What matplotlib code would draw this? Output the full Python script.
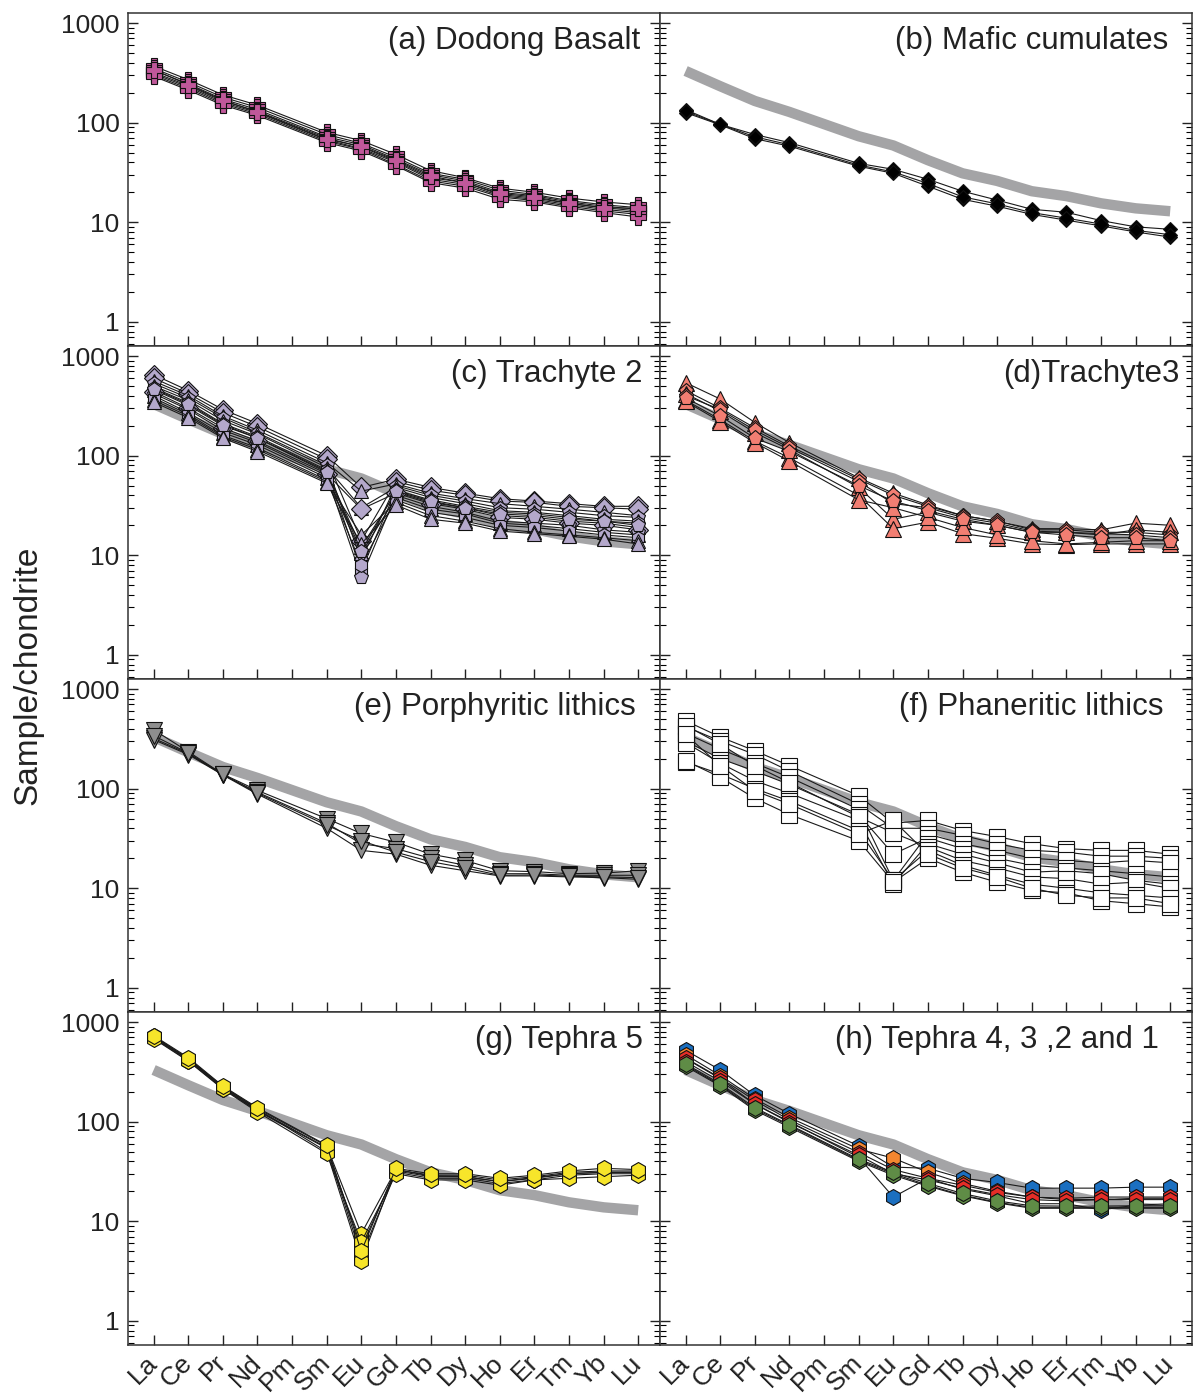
import numpy as np
import matplotlib
matplotlib.use("Agg")
import matplotlib.pyplot as plt
from matplotlib.ticker import LogLocator, FixedLocator, NullFormatter

plt.rcParams['font.family'] = ['Liberation Sans', 'DejaVu Sans']

elements = ['La', 'Ce', 'Pr', 'Nd', 'Pm', 'Sm', 'Eu', 'Gd', 'Tb', 'Dy', 'Ho', 'Er', 'Tm', 'Yb', 'Lu']
# measured REE (no Pm)
ree = ['La', 'Ce', 'Pr', 'Nd', 'Sm', 'Eu', 'Gd', 'Tb', 'Dy', 'Ho', 'Er', 'Tm', 'Yb', 'Lu']

# Dodong basalt average (grey band)
basalt_ref = [330, 232, 165, 128, 73, 59, 42, 31, 26, 20.5, 18.3, 15.5, 13.8, 12.9]

# (a) Dodong Basalt
dodong = [
    [370, 270, 190, 150, 80, 66, 48, 33, 28, 22, 20, 17.5, 16, 15],
    [350, 255, 180, 142, 76, 62, 45, 31, 27, 21, 19, 16.5, 15, 14],
    [335, 245, 172, 135, 72, 60, 43, 30, 26, 20, 18.5, 16, 14.5, 13.5],
    [320, 235, 165, 130, 70, 57, 41, 28, 25, 19, 17.5, 15.5, 14, 13],
    [310, 228, 160, 126, 67, 55, 40, 27, 24, 18.5, 17, 15, 13.5, 12.5],
    [300, 220, 155, 122, 65, 54, 38, 26, 23, 18, 16.5, 14.5, 13, 12],
    [292, 212, 150, 118, 63, 52, 37, 25, 22, 17, 16, 14, 12.5, 11.3],
    [340, 240, 168, 128, 68, 58, 42, 29, 25, 19.5, 18, 15.5, 14, 13.8],
]

# (b) Mafic cumulates
mafic = [
    [135, 96, 76, 63, 39, 34, 27, 20.5, 16.7, 13.5, 12.6, 10.4, 9, 8.5],
    [126, 95, 69, 58, 36.5, 31, 23, 17, 14.5, 12, 10.5, 9.2, 8, 7.1],
    [130, 96, 72, 60, 37.5, 32, 24.5, 18, 15.3, 12.5, 11, 9.6, 8.3, 7.5],
]

# (c) Trachyte 2
trachyte2 = [
    [650, 450, 290, 210, 100, 48, 58, 48, 42, 37, 35, 33, 31, 31],
    [600, 420, 270, 195, 92, 14, 55, 45, 40, 35, 34, 31, 30, 29],
    [560, 400, 250, 180, 85, 44, 52, 42, 37, 33, 31, 29, 27, 25],
    [530, 380, 240, 170, 80, 9, 50, 40, 35, 30, 29, 27, 25, 24],
    [500, 360, 225, 165, 76, 30, 48, 38, 33, 28, 27, 25, 23, 22],
    [480, 340, 210, 155, 72, 7, 45, 36, 31, 27, 26, 24, 22, 21],
    [460, 320, 200, 150, 70, 12, 43, 34, 30, 25, 24, 22, 21, 19],
    [440, 300, 190, 140, 66, 29, 42, 33, 29, 24, 23, 21, 20, 18],
    [420, 290, 180, 135, 63, 6, 40, 31, 27, 22, 21, 20, 18, 17],
    [400, 270, 170, 128, 60, 10.5, 38, 29, 26, 21, 20, 18.5, 17, 16],
    [380, 260, 160, 120, 57, 8, 36, 27, 24, 20, 19, 17.5, 16, 15],
    [360, 250, 155, 115, 55, 16, 34, 25, 22, 18.5, 17, 16, 15, 14],
    [345, 240, 150, 110, 53, 13, 32, 23, 21, 17.5, 16.5, 15.5, 14.5, 13],
    [470, 330, 205, 150, 68, 11, 44, 35, 30, 26, 25, 23, 22, 20],
]
trachyte2_mk = ['D', 'D', '^', 'p', '^', 'h', '^', 'D', 'p', '^', 'h', '^', '^', 'p']

# (d) Trachyte 3
trachyte3 = [
    [540, 370, 215, 135, 60, 42, 32, 25, 22, 18.5, 18.5, 18, 21, 20],
    [450, 300, 190, 125, 58, 40, 31, 25, 22, 18, 18, 17, 17, 16],
    [420, 280, 170, 115, 48, 23, 27, 22, 20, 17, 17, 16, 18, 17],
    [400, 290, 180, 120, 55, 33, 30, 24, 21, 17.5, 17, 16.5, 16, 15],
    [360, 230, 140, 95, 40, 18.5, 21.5, 16.5, 14.8, 13, 12.8, 13, 13, 13],
    [350, 220, 135, 88, 36, 30, 24, 19, 16, 14, 13, 13.5, 14, 14],
    [380, 250, 150, 110, 50, 35, 28, 23, 20, 17, 16, 15, 15, 14],
]
trachyte3_mk = ['^', 'p', '^', 'p', '^', '^', 'p']

# (e) Porphyritic lithics
porphyritic = [
    [390, 235, 140, 96, 50, 35.5, 29, 22, 19, 15, 14.7, 14, 14.2, 15],
    [320, 225, 138, 92, 45, 28, 25, 20, 17, 14, 14, 13.5, 13.5, 13.5],
    [310, 220, 137, 88, 40, 24, 22, 17, 15, 13.3, 13.3, 13, 12.8, 12.3],
    [340, 228, 139, 90, 43, 30, 23, 18.5, 16, 13.5, 13.6, 13.2, 13, 12.8],
]

# (f) Phaneritic lithics
phaneritic = [
    [480, 330, 240, 170, 85, 45, 48, 38, 33, 28, 25, 24, 24, 22],
    [420, 300, 220, 150, 70, 40, 40, 34, 28, 24, 23, 21, 21, 20],
    [360, 250, 180, 130, 62, 12, 35, 28, 24, 20, 19, 18, 19, 18],
    [300, 200, 150, 110, 55, 22, 32, 25, 20, 17, 16, 15, 14, 13],
    [290, 180, 120, 90, 48, 11, 28, 22, 18, 14.5, 15, 14, 12, 11],
    [430, 280, 170, 115, 52, 36, 26, 19, 16, 13, 12.5, 11, 11.5, 10],
    [185, 140, 100, 75, 38, 12, 24, 17, 13.5, 11, 10, 9, 8.5, 8],
    [190, 130, 80, 55, 30, 11.5, 20, 14.5, 11.5, 9.5, 9, 7.5, 7, 6.5],
    [350, 170, 95, 70, 35, 48, 22, 16, 13, 10, 8.5, 8, 8, 7],
]

# (g) Tephra 5
tephra5 = [
    [720, 430, 225, 135, 57, 7.5, 33, 29, 29, 26, 28, 31, 32, 32],
    [700, 420, 218, 130, 55, 5.5, 32, 28, 28, 25, 27, 30, 31, 31],
    [690, 410, 215, 128, 54, 4.5, 31, 27, 27, 24, 26, 29, 30, 30],
    [710, 425, 222, 133, 50, 4.0, 33, 28.5, 28, 25, 27.5, 30, 31, 31],
    [680, 405, 212, 125, 48, 6.2, 30, 26, 26, 23, 26, 27, 28, 29],
    [730, 440, 228, 138, 58, 5.0, 34, 30, 30, 27, 29, 32, 34, 33],
]

# (h) Tephra 4, 3, 2 and 1
tephra_h = [
    [520, 330, 183, 120, 57, 35, 34, 27, 24.5, 21.5, 21.5, 21.5, 22, 22],
    [430, 270, 150, 100, 44, 17.5, 27, 21, 18, 15, 15, 13, 14.5, 15],
    [470, 290, 170, 110, 53, 43, 31, 24, 20, 17.5, 16.5, 16.5, 17, 17],
    [435, 275, 163, 104, 49, 33, 27, 23, 19.5, 17.5, 17, 17.5, 17.5, 17.5],
    [400, 255, 150, 98, 46, 30, 26, 21.5, 18.5, 16.5, 16, 16.5, 16.5, 16.5],
    [370, 233, 134, 91, 41, 30, 23, 18.3, 15.5, 13.8, 13.8, 13.8, 13.8, 13.8],
    [360, 228, 130, 88, 40, 29, 22.5, 18, 15.3, 13.5, 13.5, 13.5, 13.5, 13.5],
    [380, 240, 138, 93, 42, 31, 24, 19, 16, 14.3, 14.2, 14.2, 14.3, 14.3],
]
tephra_h_col = ['#1b6fc0', '#1b6fc0', '#f3862f', '#e52d27', '#e52d27', '#5f8c46', '#5f8c46', '#5f8c46']

titles = ['(a) Dodong Basalt', '(b) Mafic cumulates', '(c) Trachyte 2', '(d)Trachyte3',
          '(e) Porphyritic lithics', '(f) Phaneritic lithics', '(g) Tephra 5', '(h) Tephra 4, 3 ,2 and 1']
title_x = [0.962, 0.955, 0.968, 0.977, 0.955, 0.947, 0.968, 0.937]

xpos = [elements.index(e) for e in ree]

fig = plt.figure(figsize=(11.93, 13.95), dpi=100)
W, H = 1193.0, 1395.0
axes = []
for r in range(4):
    for c in range(2):
        x0 = (128 if c == 0 else 660) / W
        y0 = 1 - (13 + 333 * (r + 1)) / H
        ax = fig.add_axes([x0, y0, 532 / W, 333 / H])
        axes.append(ax)


def plot_samples(ax, data, markers, colors, ms):
    for i, s in enumerate(data):
        mk = markers[i] if isinstance(markers, list) else markers
        col = colors[i] if isinstance(colors, list) else colors
        ax.plot(xpos, s, color='#1a1a1a', lw=0.8, marker=mk, ms=ms,
                mfc=col, mec='#111111', mew=0.8, zorder=3)


for i, ax in enumerate(axes):
    if i != 0:
        ax.plot(xpos, basalt_ref, color='#a4a4a6', lw=7.5, solid_capstyle='butt', zorder=1)

plot_samples(axes[0], dodong, 'P', '#c0589a', 11)
plot_samples(axes[1], mafic, 'D', '#000000', 7)
plot_samples(axes[2], trachyte2, trachyte2_mk, '#b4a8cb', 10)
plot_samples(axes[3], trachyte3, trachyte3_mk, '#f27e72', 11)
plot_samples(axes[4], porphyritic, 'v', '#8e8e8e', 11)
plot_samples(axes[5], phaneritic, 's', '#ffffff', 11.5)
plot_samples(axes[6], tephra5, 'h', '#f7e52a', 11.5)
plot_samples(axes[7], tephra_h, 'h', tephra_h_col, 11.5)

for i, ax in enumerate(axes):
    ax.set_yscale('log')
    ax.set_ylim(0.573, 1260)
    ax.set_xlim(-0.74, 14.63)
    ax.yaxis.set_major_locator(FixedLocator([1, 10, 100, 1000]))
    ax.yaxis.set_minor_locator(LogLocator(base=10, subs=np.arange(2, 10)))
    ax.yaxis.set_minor_formatter(NullFormatter())
    ax.set_xticks(range(len(elements)))
    ax.tick_params(axis='y', which='major', direction='in', length=7, width=1.0,
                   left=True, right=True, labelsize=19, pad=6, colors='#222222')
    ax.tick_params(axis='y', which='minor', direction='in', length=4, width=0.8,
                   left=True, right=True)
    ax.tick_params(axis='x', which='major', direction='in', length=7, width=1.0,
                   bottom=True, top=False, colors='#222222')
    if i % 2 == 0:
        ax.set_yticklabels(['1', '10', '100', '1000'])
    else:
        ax.set_yticklabels([])
    if i >= 6:
        ax.set_xticklabels(elements, rotation=45, ha='right', va='center',
                           rotation_mode='anchor', fontsize=19)
        ax.tick_params(axis='x', pad=10)
    else:
        ax.set_xticklabels([])
    for sp in ax.spines.values():
        sp.set_linewidth(1.1)
        sp.set_color('#333333')
    ax.text(title_x[i], 0.915, titles[i], transform=ax.transAxes, ha='right', va='center',
            fontsize=22.5, color='#222222')

fig.text(28 / W, 0.516, 'Sample/chondrite', rotation=90, ha='center', va='center',
         fontsize=24, color='#222222')

fig.savefig('out.png', dpi=100)
